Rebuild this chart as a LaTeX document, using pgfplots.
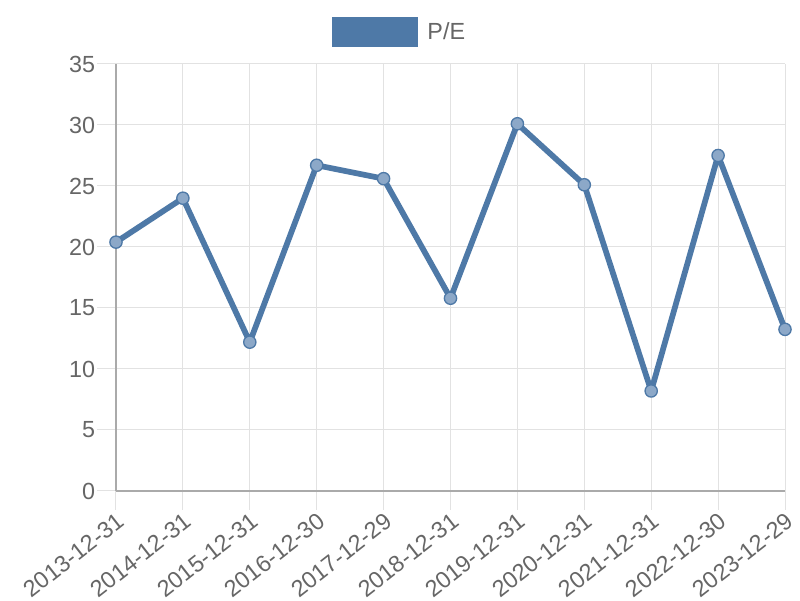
\documentclass[border=0pt]{standalone}
\usepackage{fontspec}
\setmainfont{Liberation Sans}
\usepackage{pgfplots}
\pgfplotsset{compat=1.18}
\definecolor{pe}{RGB}{78,121,167}
\definecolor{pefill}{RGB}{140,168,200}
\definecolor{txt}{RGB}{102,102,102}
\definecolor{gridc}{RGB}{226,226,226}
\definecolor{axc}{RGB}{170,170,170}
\begin{document}
\begin{tikzpicture}
\begin{axis}[
  scale only axis, width=501.75pt, height=320.25pt,
  xmin=0, xmax=10, ymin=0, ymax=35,
  xtick={0,1,2,3,4,5,6,7,8,9,10},
  xticklabels={2013-12-31,2014-12-31,2015-12-31,2016-12-30,2017-12-29,2018-12-31,2019-12-31,2020-12-31,2021-12-31,2022-12-30,2023-12-29},
  ytick={0,5,10,15,20,25,30,35},
  grid=major, major grid style={gridc, line width=0.75pt},
  axis x line*=bottom, axis y line*=left,
  axis line style={axc, line width=0.9pt, -},
  tick style={gridc, line width=0.75pt}, tick align=outside, major tick length=14pt,
  ticklabel style={font=\fontsize{17.5}{20}\selectfont, text=txt},
  xticklabel style={rotate=38, anchor=north east, inner sep=1pt},
  yticklabel style={inner sep=1.5pt},
  /pgf/number format/assume math mode=true,
  clip=false,
  legend style={at={(0.4257,1.0756)}, anchor=center, draw=none, fill=none,
    font=\fontsize{17.5}{20}\selectfont, text=txt,
    nodes={inner sep=3.3pt},
    /tikz/every odd column/.append style={column sep=3.75pt}},
  legend image code/.code={\fill[pe, draw=none] (0pt,-11.25pt) rectangle (64.5pt,11.25pt);},
]
\addplot[pe, line width=4.3pt, line join=round, mark=*, mark size=4.6pt,
  mark options={fill=pefill, draw=pe, line width=1pt}] coordinates {
  (0,20.4) (1,24.0) (2,12.2) (3,26.7) (4,25.6) (5,15.8)
  (6,30.1) (7,25.1) (8,8.2) (9,27.5) (10,13.25)
};
\addlegendentry{P/E}
\end{axis}
\useasboundingbox (-87pt,-81.75pt) rectangle (513pt,368.25pt);
\end{tikzpicture}
\end{document}
